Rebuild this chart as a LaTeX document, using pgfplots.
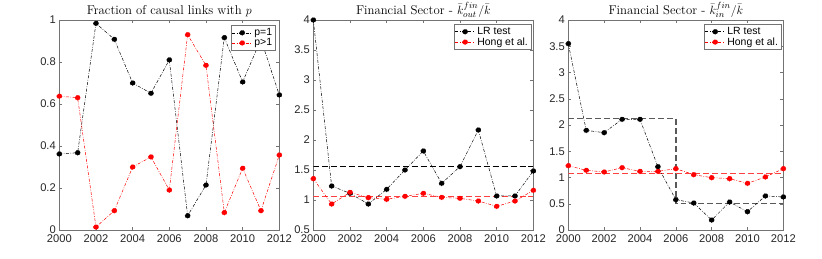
\documentclass[border=0pt]{standalone}
\usepackage{fontspec}
\usepackage{pgfplots}
\pgfplotsset{compat=1.18}
\newfontfamily\sans{Liberation Sans}
\definecolor{axgray}{gray}{0.45}
\definecolor{txtgray}{gray}{0.15}
\pgfplotsset{
  mystyle/.style={
    scale only axis,
    height=210bp,
    xmin=2000, xmax=2012,
    xtick={2000,2002,...,2012},
    /pgf/number format/assume math mode=true,
    /pgf/number format/1000 sep={},
    tick label style={font=\sans\fontsize{11.2}{13}\selectfont, text=txtgray},
    tick align=inside,
    major tick length=3bp,
    every tick/.style={axgray, line width=0.4pt},
    axis line style={axgray, line width=0.5pt},
    title style={font=\fontsize{12.8}{14}\selectfont, at={(0.5,1)}, anchor=base, yshift=0bp, inner sep=0pt},
    legend style={font=\sans\fontsize{10.5}{12}\selectfont, draw=axgray, line width=0.4pt,
      inner sep=1pt, row sep=-2.5pt, anchor=north east, legend cell align=left},
    legend image code/.code={%
      \draw[mark repeat=2,mark phase=2] plot coordinates {(0bp,0bp)(10bp,0bp)(20bp,0bp)};},
    xticklabel style={yshift=-1pt},
  },
  dd/.style={line width=0.5pt, dash pattern=on 3pt off 1.5pt on 0.7pt off 1.5pt, mark=*, mark size=2.5bp, mark options={solid}},
}
\begin{document}
\begin{tikzpicture}
\useasboundingbox (0,0) rectangle (822bp,259bp);
% Panel 1
\begin{axis}[mystyle, width=220bp, at={(59.3bp,29bp)}, anchor=south west,
  ymin=0, ymax=1, ytick={0,0.2,...,1},
  yticklabels={0,0.2,0.4,0.6,0.8,1},
  title={Fraction of causal links with $p$},
  legend style={at={(0.982,0.975)}}]
\addplot[dd, black, mark options={fill=black}] coordinates {
(2000,0.362)(2001,0.368)(2002,0.984)(2003,0.908)(2004,0.700)(2005,0.651)(2006,0.810)
(2007,0.068)(2008,0.214)(2009,0.916)(2010,0.705)(2011,0.908)(2012,0.643)};
\addlegendentry{p=1}
\addplot[dd, red, mark options={fill=red}] coordinates {
(2000,0.637)(2001,0.630)(2002,0.014)(2003,0.092)(2004,0.300)(2005,0.348)(2006,0.190)
(2007,0.930)(2008,0.784)(2009,0.083)(2010,0.294)(2011,0.092)(2012,0.357)};
\addlegendentry{p>1}
\end{axis}
% Panel 2
\begin{axis}[mystyle, width=220bp, at={(313.3bp,29bp)}, anchor=south west,
  ymin=0.5, ymax=4, ytick={0.5,1,...,4},
  yticklabels={0.5,1,1.5,2,2.5,3,3.5,4},
  title={Financial Sector - $\bar{k}^{fin}_{out}/\bar{k}$},
  legend style={at={(0.99,0.98)}}]
\addplot[black, line width=0.9pt, dash pattern=on 6pt off 3pt, forget plot] coordinates {(2000,1.567)(2012,1.567)};
\addplot[red!75, line width=1.2pt, dash pattern=on 6pt off 3pt, forget plot] coordinates {(2000,1.056)(2012,1.056)};
\addplot[dd, black, mark options={fill=black}] coordinates {
(2000,4.0)(2001,1.233)(2002,1.111)(2003,0.933)(2004,1.178)(2005,1.50)(2006,1.817)
(2007,1.278)(2008,1.556)(2009,2.167)(2010,1.067)(2011,1.067)(2012,1.483)};
\addlegendentry{LR test}
\addplot[dd, red, mark options={fill=red}] coordinates {
(2000,1.356)(2001,0.933)(2002,1.128)(2003,1.039)(2004,1.011)(2005,1.061)(2006,1.111)
(2007,1.044)(2008,1.028)(2009,0.983)(2010,0.894)(2011,0.983)(2012,1.161)};
\addlegendentry{Hong et al.}
\end{axis}
% Panel 3
\begin{axis}[mystyle, width=215bp, at={(568.3bp,29bp)}, anchor=south west,
  ymin=0, ymax=4, ytick={0,0.5,...,4},
  yticklabels={0,0.5,1,1.5,2,2.5,3,3.5,4},
  title={Financial Sector - $\bar{k}^{fin}_{in}/\bar{k}$},
  legend style={at={(0.99,0.98)}}]
\addplot[black!65, line width=1.4pt, dash pattern=on 6pt off 3pt, forget plot] coordinates {(2000,2.12)(2006,2.12)(2006,0.50)(2012,0.50)};
\addplot[red!75, line width=1.2pt, dash pattern=on 6pt off 3pt, forget plot] coordinates {(2000,1.08)(2012,1.08)};
\addplot[dd, black, mark options={fill=black}] coordinates {
(2000,3.549)(2001,1.898)(2002,1.854)(2003,2.108)(2004,2.108)(2005,1.206)(2006,0.578)
(2007,0.514)(2008,0.190)(2009,0.533)(2010,0.349)(2011,0.648)(2012,0.629)};
\addlegendentry{LR test}
\addplot[dd, red, mark options={fill=red}] coordinates {
(2000,1.225)(2001,1.137)(2002,1.105)(2003,1.187)(2004,1.117)(2005,1.117)(2006,1.168)
(2007,1.054)(2008,0.997)(2009,0.978)(2010,0.889)(2011,1.010)(2012,1.168)};
\addlegendentry{Hong et al.}
\end{axis}
\end{tikzpicture}
\end{document}
